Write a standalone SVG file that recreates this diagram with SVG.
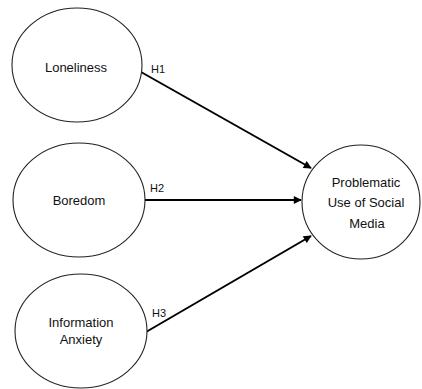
<svg xmlns="http://www.w3.org/2000/svg" width="422" height="389" viewBox="0 0 422 389">
<style>
.node ellipse{fill:#fff;stroke:#222;stroke-width:1.1}
.lbl{font-family:"Liberation Sans",Arial,sans-serif;font-size:13px;fill:#111;text-anchor:middle}
.h{font-family:"Liberation Sans",Arial,sans-serif;font-size:11px;fill:#111}
.edge{stroke:#000;stroke-width:2;fill:none;marker-end:url(#ah)}
</style>
<defs>
<marker id="ah" viewBox="0 0 10 10" refX="9" refY="5" markerWidth="4.5" markerHeight="4" orient="auto" markerUnits="strokeWidth">
<path d="M0,0 L10,5 L0,10 z" fill="#000"/>
</marker>
</defs>
<rect width="422" height="389" fill="#fff"/>
<g id="connectors">
<line class="edge" x1="141" y1="72" x2="311" y2="168"/>
<line class="edge" x1="145" y1="200" x2="301" y2="200"/>
<line class="edge" x1="146" y1="332" x2="311" y2="236"/>
<text class="h" x="151" y="73">H1</text>
<text class="h" x="150" y="192">H2</text>
<text class="h" x="152" y="317">H3</text>
</g>
<g id="loneliness" class="node">
<ellipse cx="77" cy="65" rx="65" ry="57"/>
<text class="lbl" x="76" y="72">Loneliness</text>
</g>
<g id="boredom" class="node">
<ellipse cx="79" cy="200" rx="66" ry="57"/>
<text class="lbl" x="79" y="205">Boredom</text>
</g>
<g id="information-anxiety" class="node">
<ellipse cx="81" cy="331" rx="66" ry="57"/>
<text class="lbl" x="81" y="327">Information</text>
<text class="lbl" x="81" y="344">Anxiety</text>
</g>
<g id="problematic-use" class="node">
<ellipse cx="361" cy="202" rx="59" ry="57"/>
<text class="lbl" x="366" y="187">Problematic</text>
<text class="lbl" x="366" y="207">Use of Social</text>
<text class="lbl" x="367" y="228">Media</text>
</g>
</svg>
